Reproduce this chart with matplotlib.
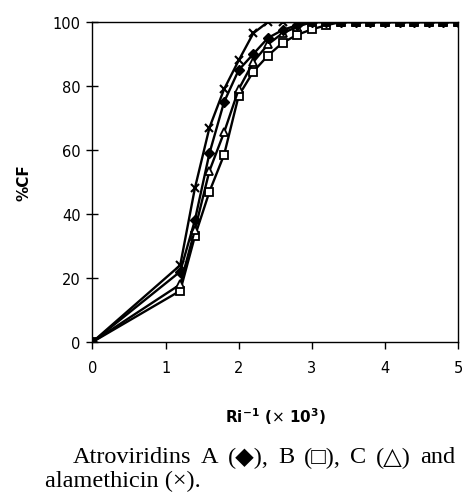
import matplotlib
matplotlib.use("Agg")
import matplotlib.pyplot as plt
import numpy as np

x = [0, 1.2, 1.4, 1.6, 1.8, 2.0, 2.2, 2.4, 2.6, 2.8, 3.0, 3.2, 3.4, 3.6,
     3.8, 4.0, 4.2, 4.4, 4.6, 4.8, 5.0]
atro_A = [0, 22, 38, 59, 75, 85, 90, 95, 97.5, 99, 100, 100, 100, 100,
          100, 100, 100, 100, 100, 100, 100]
atro_B = [0, 16, 33, 47, 58.5, 77, 84.5, 89.5, 93.5, 96, 97.7, 99, 100, 100,
          100, 100, 100, 100, 100, 100, 100]
atro_C = [0, 18, 35, 53.5, 65.5, 79, 87.5, 93, 96.5, 98.5, 100, 100, 100, 100,
          100, 100, 100, 100, 100, 100, 100]
alameth = [0, 24, 48, 67, 79, 88, 96.5, 100, 100, 100, 100, 100, 100, 100,
           100, 100, 100, 100, 100, 100, 100]

xticks = [0, 1, 2, 3, 4, 5]
yticks = [0, 20, 40, 60, 80, 100]

W, H = 464, 502
fig = plt.figure(figsize=(W/100, H/100), dpi=100)
ax = fig.add_axes([92.5/W, 1-343/H, (458-92.5)/W, (343-23)/H])

lw = 1.7
ax.plot(x, atro_B, '-', color='black', lw=lw, marker='s', ms=5.5,
        mfc='white', mec='black', mew=1.3, zorder=3)
ax.plot(x, atro_C, '-', color='black', lw=lw, marker='^', ms=5.5,
        mfc='white', mec='black', mew=1.3, zorder=4)
ax.plot(x, atro_A, '-', color='black', lw=lw, marker='D', ms=4.8,
        mfc='black', mec='black', zorder=5)
ax.plot(x, alameth, '-', color='black', lw=lw, marker='x', ms=6,
        mec='black', mew=1.5, zorder=6)

ax.set_xlim(0, 5)
ax.set_ylim(0, 100)
ax.set_xticks(xticks)
ax.set_yticks(yticks)
ax.tick_params(axis='y', direction='inout', length=9, width=1, labelsize=10.5, pad=4)
ax.tick_params(axis='x', direction='out', length=5, width=1, labelsize=10.5, pad=8)
for s in ax.spines.values():
    s.set_linewidth(1.0)

ax.set_ylabel('%CF', fontsize=11, fontweight='bold', labelpad=15)
ax.set_xlabel(r'Ri$^{\mathbf{-1}}$ ($\times$ 10$^{\mathbf{3}}$)', fontsize=11,
              fontweight='bold', labelpad=22)

# caption, justified first line
fam = ['Liberation Serif', 'DejaVu Sans']
fs = 17.5
line1 = ['Atroviridins', 'A', '(\u25C6),', 'B', '(\u25A1),', 'C', '(\u25B3)', 'and']
x0, x1 = 73, 455
y1 = 1 - 458/H
r = fig.canvas.get_renderer()
texts = [fig.text(0, y1, w, fontsize=fs, family=fam, va='center', ha='left')
         for w in line1]
widths = [t.get_window_extent(renderer=r).width for t in texts]
gap = (x1 - x0 - sum(widths)) / (len(line1) - 1)
pos = x0
for t, wd in zip(texts, widths):
    t.set_x(pos / W)
    pos += wd + gap
fig.text(45/W, 1-481/H, 'alamethicin (\u00D7).',
         fontsize=fs, family=fam, va='center', ha='left')

fig.savefig('out.png', dpi=100)
